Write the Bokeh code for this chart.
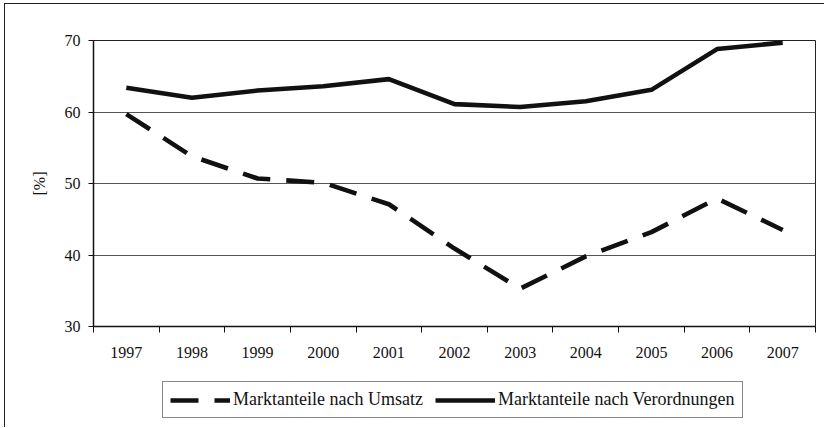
from bokeh.plotting import figure
from bokeh.models import FixedTicker, Legend, LegendItem, Range1d, NumeralTickFormatter
from bokeh.layouts import column
from bokeh.embed import file_html
from bokeh.resources import INLINE

years = [1997, 1998, 1999, 2000, 2001, 2002, 2003, 2004, 2005, 2006, 2007]
umsatz = [59.7, 53.8, 50.7, 50.1, 47.1, 40.9, 35.3, 39.8, 43.2, 47.9, 43.5]
verordnungen = [63.4, 62.0, 63.0, 63.6, 64.6, 61.1, 60.7, 61.5, 63.1, 68.8, 69.7]
y_ticks = [30, 40, 50, 60, 70]
label_umsatz = "Marktanteile nach Umsatz"
label_verordnungen = "Marktanteile nach Verordnungen"
y_label = "[%]"

FONT = "Liberation Serif"
INK = "#111111"
DASH = "28 16"
LW = 4.6

p = figure(width=819, height=372, output_backend="svg", toolbar_location=None,
           x_range=Range1d(years[0] - 0.5, years[-1] + 0.5),
           y_range=Range1d(y_ticks[0], y_ticks[-1]),
           min_border_left=88, min_border_right=9, min_border_top=36, min_border_bottom=50)

p.outline_line_color = "#222222"
p.outline_line_width = 1
p.background_fill_color = "white"
p.border_fill_color = "white"

p.line(years, umsatz, line_color=INK, line_width=LW, line_dash=DASH, line_cap="butt")
p.line(years, verordnungen, line_color=INK, line_width=LW, line_join="round")

# x axis: labels at category centres, ticks at category boundaries
p.xaxis.ticker = FixedTicker(ticks=years, minor_ticks=[y - 0.5 for y in years] + [years[-1] + 0.5])
p.xaxis.formatter = NumeralTickFormatter(format="0")
p.xaxis.major_tick_out = 0
p.xaxis.major_tick_in = 0
p.xaxis.minor_tick_out = 6
p.xaxis.minor_tick_in = 0
p.xaxis.minor_tick_line_color = INK
p.xaxis.major_label_standoff = 14
p.xaxis.axis_line_color = INK
p.xaxis.axis_line_width = 1.5

# y axis
p.yaxis.ticker = FixedTicker(ticks=y_ticks, minor_ticks=[])
p.yaxis.major_tick_out = 5
p.yaxis.major_tick_in = 0
p.yaxis.major_tick_line_color = INK
p.yaxis.major_label_standoff = 8
p.yaxis.axis_line_color = INK
p.yaxis.axis_line_width = 1.5
p.yaxis.axis_label = y_label
p.yaxis.axis_label_standoff = 14
p.yaxis.axis_label_text_font = FONT
p.yaxis.axis_label_text_font_size = "16px"
p.yaxis.axis_label_text_font_style = "normal"
p.yaxis.axis_label_text_color = INK

for ax in (p.xaxis, p.yaxis):
    ax.major_label_text_font = FONT
    ax.major_label_text_font_size = "16px"
    ax.major_label_text_color = INK

p.xgrid.grid_line_color = None
p.ygrid.ticker = FixedTicker(ticks=y_ticks)
p.ygrid.grid_line_color = "#555555"
p.ygrid.grid_line_width = 1

# legend strip (its lines lie outside its own view, only the legend shows)
q = figure(width=819, height=51, output_backend="svg", toolbar_location=None,
           x_range=Range1d(0, 1), y_range=Range1d(0, 1),
           x_axis_location=None, y_axis_location=None,
           min_border_left=0, min_border_right=0, min_border_top=0, min_border_bottom=0)
q.outline_line_color = None
q.xgrid.grid_line_color = None
q.ygrid.grid_line_color = None
q.background_fill_color = "white"
q.border_fill_color = "white"
lu = q.line(years, umsatz, line_color=INK, line_width=LW, line_dash=DASH, line_cap="butt")
lv = q.line(years, verordnungen, line_color=INK, line_width=LW)

legend = Legend(items=[LegendItem(label=label_umsatz, renderers=[lu]),
                       LegendItem(label=label_verordnungen, renderers=[lv])],
                orientation="horizontal", location=(69, 9),
                label_text_font=FONT, label_text_font_size="18px", label_text_color=INK,
                glyph_width=60, glyph_height=20, label_height=20, label_standoff=3,
                spacing=12, padding=7, margin=0,
                border_line_color=INK, border_line_width=1,
                background_fill_color="white", background_fill_alpha=1)
q.add_layout(legend, "center")

layout = column(p, q, spacing=0)
layout.styles = {"border-top": "1px solid #222", "border-left": "1px solid #222",
                 "margin-left": "4px", "margin-top": "3px"}

open("out.html", "w").write(file_html(layout, INLINE))
